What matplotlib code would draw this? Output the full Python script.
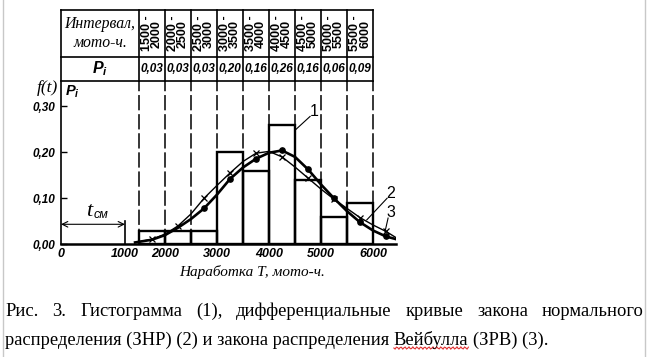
import numpy as np
import matplotlib
matplotlib.use("Agg")
import matplotlib.pyplot as plt
from matplotlib.lines import Line2D

plt.rcParams['font.family'] = ['Liberation Sans', 'DejaVu Sans']
plt.rcParams['mathtext.fontset'] = 'custom'
plt.rcParams['mathtext.it'] = 'Liberation Sans:italic:bold'
plt.rcParams['mathtext.rm'] = 'Liberation Sans:bold'

# data
intervals = ["1500 -\n2000", "2000 -\n2500", "2500 -\n3000", "3000 -\n3500", "3500 -\n4000",
             "4000 -\n4500", "4500 -\n5000", "5000 -\n5500", "5500 -\n6000"]
edges = [1500, 2000, 2500, 3000, 3500, 4000, 4500, 5000, 5500, 6000]
p_table = [0.03, 0.03, 0.03, 0.20, 0.16, 0.26, 0.16, 0.06, 0.09]
p_hist = [0.03, 0.03, 0.03, 0.20, 0.16, 0.26, 0.14, 0.06, 0.09]

curve_x = [1360, 1750, 2000, 2250, 2500, 2750, 3000, 3250, 3500, 3750, 4000,
           4250, 4500, 4750, 5000, 5250, 5500, 5750, 6000, 6250, 6450]
normal_y = [0.004, 0.011, 0.022, 0.040, 0.066, 0.100, 0.128, 0.155, 0.180, 0.198, 0.202,
            0.190, 0.168, 0.144, 0.120, 0.098, 0.078, 0.058, 0.042, 0.028, 0.014]
weibull_y = [0.004, 0.010, 0.020, 0.036, 0.055, 0.078, 0.108, 0.142, 0.167, 0.186, 0.199,
             0.204, 0.190, 0.163, 0.130, 0.100, 0.072, 0.048, 0.030, 0.017, 0.011]
normal_marks = [1, 3, 5, 7, 9, 11, 13, 15, 17, 19]
weibull_marks = [5, 7, 9, 11, 13, 15, 17, 19]

x_ticks = [0, 1000, 2000, 3000, 4000, 5000, 6000]
y_ticks = [0.0, 0.10, 0.20, 0.30]
t_cm = 1000

caption1 = "Рис. 3. Гистограмма (1), дифференциальные кривые закона нормального"
caption2a = "распределения (ЗНР) (2) и закона распределения"
caption2b = "Вейбулла"
caption2c = "(ЗРВ) (3)."


# the x axis in the drawing is squeezed between 0 and 1500
def fwd(x):
    x = np.asarray(x, dtype=float)
    return np.where(x < 1000, x * 1.23, np.where(x < 1500, 1230 + (x - 1000) * 0.54, x))


def inv(x):
    x = np.asarray(x, dtype=float)
    return np.where(x < 1230, x / 1.23, np.where(x < 1500, 1000 + (x - 1230) / 0.54, x))


fig = plt.figure(figsize=(6.47, 3.57), dpi=100)
ax = fig.add_axes([61 / 647, (357 - 244.3) / 357, 335.4 / 647, 163.3 / 357])
ax.set_xscale('function', functions=(fwd, inv))
ax.set_xlim(0, 6450)
ax.set_ylim(0, 0.355)
y_top = 0.355
y_mid = 0.407
y_tab = 0.509

for s in ['top', 'right', 'left']:
    ax.spines[s].set_visible(False)
ax.spines['bottom'].set_linewidth(1.8)

# dashed interval lines
for e in edges:
    ax.plot([e, e], [0, y_top], color='black', lw=1.1, ls=(0, (10, 2.5)), zorder=1)

# histogram
ax.bar(edges[:-1], p_hist, width=np.diff(edges), align='edge', fill=False,
       edgecolor='black', linewidth=1.7, zorder=3)

# curves
ax.plot(curve_x, normal_y, color='black', lw=1.0, marker='x', markersize=5,
        markeredgewidth=0.9, markevery=normal_marks, zorder=4)
ax.plot(curve_x, weibull_y, color='black', lw=1.9, marker='o', markersize=3.8,
        markevery=weibull_marks, zorder=4)

# table above the plot
kw = dict(color='black', lw=1.2, clip_on=False)
ax.plot([0, 0], [0, y_tab], **kw)
ax.plot([0, edges[-1]], [y_top, y_top], **kw)
ax.plot([0, edges[-1]], [y_mid, y_mid], **kw)
ax.plot([0, edges[-1]], [y_tab, y_tab], **kw)
for e in edges:
    ax.plot([e, e], [y_top, y_tab], **kw)

head_x = float(inv((fwd(0) + fwd(edges[0])) / 2))
ax.text(head_x, (y_mid + y_tab) / 2, "Интервал,\nмото-ч.", ha='center', va='center',
        fontsize=11.3, family='Liberation Serif', style='italic', linespacing=1.2)
ax.text(head_x, (y_top + y_mid) / 2, "$P_i$", ha='center', va='center', fontsize=11.5)
for i, lab in enumerate(intervals):
    xc = (edges[i] + edges[i + 1]) / 2
    ax.text(xc, (y_mid + y_tab) / 2, lab, rotation=90, ha='center', va='center',
            fontsize=9, weight='bold', linespacing=0.78, multialignment='center')
    ax.text(xc, (y_top + y_mid) / 2, f"{p_table[i]:.2f}".replace('.', ','), ha='center',
            va='center', fontsize=8.5, weight='bold', style='italic')

# ticks
ax.set_xticks(x_ticks)
ax.set_xticklabels([str(v) for v in x_ticks], fontsize=9, weight='bold', style='italic')
ax.set_yticks(y_ticks)
ax.set_yticklabels([f"{v:.2f}".replace('.', ',') for v in y_ticks], fontsize=8.5,
                   weight='bold', style='italic')
ax.tick_params(axis='x', length=0, pad=3)
ax.tick_params(axis='y', direction='in', length=4, width=1, pad=4)

# axis labels
ax.text(-0.008, 0.955, "f(t)", transform=ax.transAxes, ha='right', va='center',
        fontsize=12.5, family='Liberation Serif', style='italic')
ax.text(0.012, 0.935, "$P_i$", transform=ax.transAxes, ha='left', va='center', fontsize=10.5)
ax.text(0.57, -0.17, "Наработка Т, мото-ч.", transform=ax.transAxes, ha='center', va='center',
        fontsize=11, family='Liberation Serif', style='italic')

# t_cm marker
ax.plot([t_cm, t_cm], [0, 0.05], color='black', lw=1.2)
ax.annotate("", xy=(0, 0.0435), xytext=(t_cm, 0.0435),
            arrowprops=dict(arrowstyle='<->', lw=0.8, color='black', shrinkA=0, shrinkB=0))
ax.text(437, 0.05, "t", ha='center', va='bottom', fontsize=16,
        family='Liberation Serif', style='italic')
ax.text(510, 0.05, "см", ha='left', va='bottom', fontsize=9, style='italic')

# numbered leaders
lab_kw = dict(fontsize=11.5, ha='center', va='center')
ax.plot([4520, 4790], [0.25, 0.278], color='black', lw=0.8, clip_on=False)
ax.text(4860, 0.288, "1", **lab_kw)
ax.plot([5880, 6270], [0.053, 0.100], color='black', lw=0.8, clip_on=False)
ax.text(6330, 0.111, "2", **lab_kw)
ax.plot([6230, 6290], [0.027, 0.057], color='black', lw=0.8, clip_on=False)
ax.text(6345, 0.070, "3", **lab_kw)

# page borders
fig.add_artist(Line2D([2.5 / 647, 2.5 / 647], [0, 1], color='#c8c8c8', lw=1, transform=fig.transFigure))
fig.add_artist(Line2D([645 / 647, 645 / 647], [0, 1], color='#c8c8c8', lw=1, transform=fig.transFigure))

# caption, first line justified
cap_kw = dict(fontsize=13.3, family='Liberation Serif', va='baseline', ha='left')
fig.canvas.draw()
r = fig.canvas.get_renderer()
W, H = 647, 357
words = caption1.split()
arts = [fig.text(0, 0, w, **cap_kw) for w in words]
widths = [a.get_window_extent(r).width for a in arts]
x0, x1 = 5, 644
gap = (x1 - x0 - sum(widths)) / (len(words) - 1)
x = x0
for a, w in zip(arts, widths):
    a.set_position((x / W, 1 - 316 / H))
    x += w + gap

probe1 = fig.text(0, 0, "x x", **cap_kw)
probe2 = fig.text(0, 0, "xx", **cap_kw)
space = probe1.get_window_extent(r).width - probe2.get_window_extent(r).width
probe1.remove()
probe2.remove()

x = x0
y2 = 1 - 345 / H
for part in [caption2a, caption2b, caption2c]:
    t = fig.text(x / W, y2, part, **cap_kw)
    w = t.get_window_extent(r).width
    if part == caption2b:
        xs = np.linspace(x, x + w, 60)
        ys = 345 + 3 + 1.2 * np.sin((xs - x) / 4.0 * 2 * np.pi)
        fig.add_artist(Line2D(xs / W, 1 - ys / H, color='#e03030', lw=0.8,
                              transform=fig.transFigure))
    x += w + space

fig.savefig("out.png", dpi=100)
